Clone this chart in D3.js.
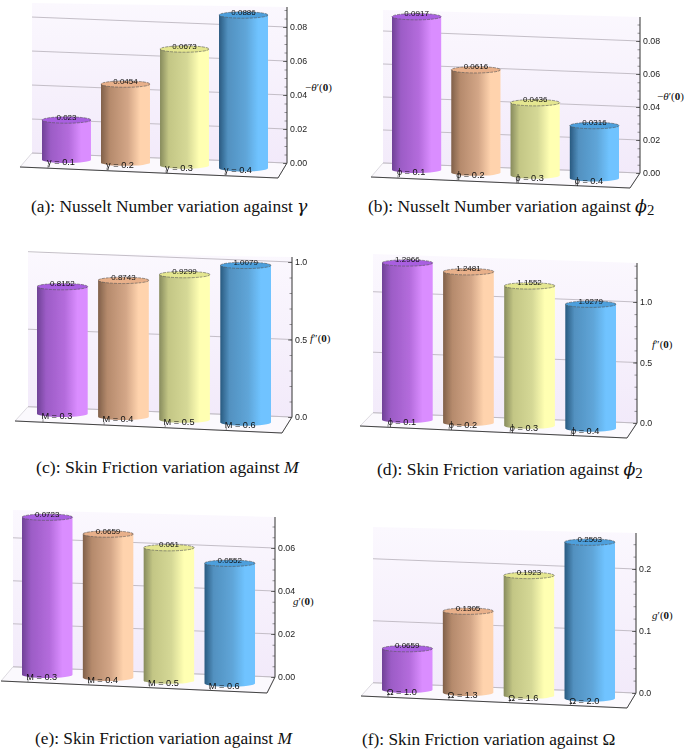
<!DOCTYPE html>
<html>
<head>
<meta charset="utf-8">
<script src="https://cdn.jsdelivr.net/npm/d3@7"></script>
<style>
  html, body { margin: 0; padding: 0; background: #fff; }
  svg { display: block; }
  .caption { font-family: "Liberation Serif", serif; fill: #111; }
  .ytitle { font-family: "Liberation Serif", serif; font-size: 11px; fill: #111; }
  .sans { font-family: "Liberation Sans", Arial, sans-serif; fill: #111; }
</style>
</head>
<body>
<div id="container"></div>
<script>
const catsA = ["γ = 0.1", "γ = 0.2", "γ = 0.3", "γ = 0.4"];
const valsA = [0.023, 0.0454, 0.0673, 0.0886];
const ticksA = [0, 0.02, 0.04, 0.06, 0.08];

const catsB = ["ϕ = 0.1", "ϕ = 0.2", "ϕ = 0.3", "ϕ = 0.4"];
const valsB = [0.0917, 0.0616, 0.0436, 0.0316];
const ticksB = [0, 0.02, 0.04, 0.06, 0.08];

const catsC = ["M = 0.3", "M = 0.4", "M = 0.5", "M = 0.6"];
const valsC = [0.8152, 0.8743, 0.9299, 1.0079];
const ticksC = [0, 0.5, 1];

const catsD = ["ϕ = 0.1", "ϕ = 0.2", "ϕ = 0.3", "ϕ = 0.4"];
const valsD = [1.2966, 1.2481, 1.1552, 1.0279];
const ticksD = [0, 0.5, 1];

const catsE = ["M = 0.3", "M = 0.4", "M = 0.5", "M = 0.6"];
const valsE = [0.0723, 0.0659, 0.061, 0.0552];
const ticksE = [0, 0.02, 0.04, 0.06];

const catsF = ["Ω = 1.0", "Ω = 1.3", "Ω = 1.6", "Ω = 2.0"];
const valsF = [0.0659, 0.1305, 0.1923, 0.2503];
const ticksF = [0, 0.1, 0.2];

// dark edge, shaded side, middle, highlight, top cap
const colors = [
  ["#6f4296", "#9c5cc6", "#b46cdc", "#da8dff", "#a95fe0"],
  ["#80604a", "#b58a6c", "#d3a687", "#ffd3ad", "#e8b08a"],
  ["#878b5d", "#c3c685", "#d5d896", "#ffffb2", "#e4e690"],
  ["#295a80", "#5291c0", "#5fa5d8", "#6fc3ff", "#4d9fdc"]
];

// placement of each panel on the page
const panels = [
  {cats: catsA, vals: valsA, ticks: ticksA, fmt: ".2f", minor: 0.005, axisX: 287, y0: 163, pxTop: 7, unit: 1700, barUnit: 1730, left: 42, right: 268, base: 163, wallX: 32, wallTop: 3, frontL: [20, 167], frontR: [278, 178], title: ["−", "θ", "′(", "0", ")"], titleX: 305, titleY: 91, cap: ["(a): Nusselt Number variation against ", "γ", ""], capX: 31, capY: 212, capSize: 17.4},
  {cats: catsB, vals: valsB, ticks: ticksB, fmt: ".2f", minor: 0.005, axisX: 640, y0: 173, pxTop: 17, unit: 1650, barUnit: 1670, left: 392, right: 619, base: 173, wallX: 383, wallTop: 10, frontL: [371, 177], frontR: [630, 188], title: ["−", "θ", "′(", "0", ")"], titleX: 657, titleY: 100, cap: ["(b): Nusselt Number variation against ", "ϕ", "2"], capX: 368, capY: 212, capSize: 17.4},
  {cats: catsC, vals: valsC, ticks: ticksC, fmt: ".1f", minor: 0.1, axisX: 292, y0: 417, pxTop: 257, unit: 155, barUnit: 156, left: 37, right: 271, base: 417, wallX: 28, wallTop: 253, frontL: [15, 421], frontR: [282, 433], title: ["", "f", "″(", "0", ")"], titleX: 310, titleY: 342, cap: ["(c): Skin Friction variation against ", "M", ""], capX: 36, capY: 473, capSize: 17.7},
  {cats: catsD, vals: valsD, ticks: ticksD, fmt: ".1f", minor: 0.1, axisX: 637, y0: 423, pxTop: 263, unit: 121, barUnit: 121, left: 382, right: 616, base: 423, wallX: 373, wallTop: 254, frontL: [360, 426], frontR: [627, 438], title: ["", "f", "″(", "0", ")"], titleX: 652, titleY: 348, cap: ["(d): Skin Friction variation against ", "ϕ", "2"], capX: 377, capY: 475, capSize: 17.5},
  {cats: catsE, vals: valsE, ticks: ticksE, fmt: ".2f", minor: 0.005, axisX: 275, y0: 677, pxTop: 517, unit: 2150, barUnit: 2180, left: 22, right: 255, base: 678, wallX: 13, wallTop: 510, frontL: [1, 681], frontR: [267, 693], title: ["", "g", "′(", "0", ")"], titleX: 293, titleY: 605, cap: ["(e): Skin Friction variation against ", "M", ""], capX: 35, capY: 744, capSize: 17.3},
  {cats: catsF, vals: valsF, ticks: ticksF, fmt: ".1f", minor: 0.02, axisX: 636, y0: 693, pxTop: 533, unit: 620, barUnit: 625, left: 382, right: 615, base: 693, wallX: 373, wallTop: 527, frontL: [361, 696], frontR: [627, 708], title: ["", "g", "′(", "0", ")"], titleX: 652, titleY: 619, cap: ["(f): Skin Friction variation against ", "Ω", ""], capX: 362, capY: 745, capSize: 17.3, capUpright: true}
];

const wallSkew = 0.039;
const barSkew = 0.048;
const ry = 3.2;

const svg = d3.select("#container")
              .append("svg")
              .attr("width", 685)
              .attr("height", 750);
const defs = svg.append("defs");

const soft = defs.append("filter")
                 .attr("id", "soft")
                 .attr("x", "-5%").attr("y", "-5%")
                 .attr("width", "110%").attr("height", "110%");
soft.append("feGaussianBlur").attr("stdDeviation", 0.35);

const wallFill = defs.append("linearGradient")
                     .attr("id", "wallFill")
                     .attr("x1", 0).attr("y1", 0).attr("x2", 0).attr("y2", 1);
wallFill.append("stop").attr("offset", "0%").attr("stop-color", "#fbf8fe");
wallFill.append("stop").attr("offset", "100%").attr("stop-color", "#f2eafa");

colors.forEach((c, i) => {
  const g = defs.append("linearGradient").attr("id", "bar" + i);
  [[0, 0], [0.18, 1], [0.55, 2], [0.8, 3], [1, 3]].forEach((s) => {
    g.append("stop").attr("offset", s[0]).attr("stop-color", c[s[1]]);
  });
});

panels.forEach((p) => {
  const g = svg.append("g").attr("filter", "url(#soft)");

  const yScale = d3.scaleLinear().domain([0, 1]).range([p.y0, p.y0 - p.unit]);
  const barH = d3.scaleLinear().domain([0, 1]).range([0, p.barUnit]);
  const xScale = d3.scaleBand()
                   .domain(p.cats)
                   .range([p.left, p.right])
                   .paddingInner(0.17);

  const wallDrop = (p.axisX - p.wallX) * wallSkew;

  // back wall
  g.append("path")
   .attr("d", d3.line()([
     [p.wallX, p.wallTop],
     [p.axisX, p.pxTop],
     [p.axisX, p.y0],
     [p.wallX, p.y0 - wallDrop]
   ]) + "Z")
   .attr("fill", "url(#wallFill)");

  // floor
  g.append("path")
   .attr("d", d3.line()([
     [p.wallX, p.y0 - wallDrop],
     [p.axisX, p.y0],
     p.frontR,
     p.frontL
   ]) + "Z")
   .attr("fill", "#fbf9fd")
   .attr("stroke", "#cfcbd3")
   .attr("stroke-width", 0.7);

  // grid lines on the wall
  g.selectAll(".grid")
   .data(p.ticks)
   .enter()
   .append("line")
   .attr("x1", p.wallX)
   .attr("x2", p.axisX)
   .attr("y1", (d) => yScale(d) - wallDrop)
   .attr("y2", (d) => yScale(d))
   .attr("stroke", "#bdb8c1")
   .attr("stroke-width", 0.9);

  // front edge of the floor
  g.append("path")
   .attr("d", d3.line()([p.frontL, p.frontR, [p.axisX, p.y0]]))
   .attr("fill", "none")
   .attr("stroke", "#444")
   .attr("stroke-width", 1);

  // little marks on the front edge, one per bar
  const frontY = (x) => p.frontL[1] + (x - p.frontL[0]) * (p.frontR[1] - p.frontL[1]) / (p.frontR[0] - p.frontL[0]);
  g.selectAll(".mark")
   .data(p.cats)
   .enter()
   .append("line")
   .attr("x1", (d) => xScale(d) + 6)
   .attr("x2", (d) => xScale(d) + 6)
   .attr("y1", (d) => frontY(xScale(d) + 6))
   .attr("y2", (d) => frontY(xScale(d) + 6) - 3)
   .attr("stroke", "#666")
   .attr("stroke-width", 0.7);

  // axis
  const minorTicks = d3.range(0, (p.y0 - p.pxTop) / p.unit + 1e-9, p.minor);
  g.append("g")
   .attr("transform", "translate(" + p.axisX + ",0)")
   .call(d3.axisRight(yScale).tickValues(minorTicks).tickSize(-2.5).tickSizeOuter(0).tickFormat(""))
   .call((a) => a.select(".domain").remove())
   .selectAll("line").attr("stroke", "#555").attr("stroke-width", 0.6);

  const axis = g.append("g")
                .attr("transform", "translate(" + p.axisX + ",0)")
                .call(d3.axisRight(yScale)
                        .tickValues(p.ticks)
                        .tickSize(-4)
                        .tickSizeOuter(0)
                        .tickPadding(3)
                        .tickFormat(d3.format(p.fmt)));
  axis.select(".domain")
      .attr("d", "M0," + p.pxTop + "V" + p.y0)
      .attr("stroke", "#333");
  axis.selectAll("line").attr("stroke", "#444").attr("stroke-width", 0.7);
  axis.selectAll("text")
      .attr("class", "sans")
      .style("font-size", "8.8px")
      .style("fill", "#222");

  // cylinders
  const bar = g.selectAll(".bar")
               .data(p.vals)
               .enter()
               .append("g")
               .attr("class", "bar");
  const cx = (i) => xScale(p.cats[i]) + xScale.bandwidth() / 2;
  const baseY = (i) => p.base - ry + (cx(i) - cx(0)) * barSkew;
  const topY = (d, i) => baseY(i) - barH(d);

  bar.append("path")
     .attr("d", (d, i) => {
       const r = xScale.bandwidth() / 2;
       return "M" + (cx(i) - r) + "," + topY(d, i)
            + "V" + baseY(i)
            + "A" + r + "," + ry + " 0 0 0 " + (cx(i) + r) + "," + baseY(i)
            + "V" + topY(d, i) + "Z";
     })
     .attr("fill", (d, i) => "url(#bar" + i + ")");

  bar.append("ellipse")
     .attr("cx", (d, i) => cx(i))
     .attr("cy", topY)
     .attr("rx", xScale.bandwidth() / 2)
     .attr("ry", ry)
     .attr("fill", (d, i) => colors[i][4])
     .attr("stroke", "#555")
     .attr("stroke-width", 0.6)
     .attr("stroke-dasharray", "3 1");

  bar.append("text")
     .attr("class", "sans")
     .attr("x", (d, i) => cx(i))
     .attr("y", (d, i) => topY(d, i) - 0.5)
     .attr("text-anchor", "middle")
     .attr("font-size", 8)
     .text((d) => d);

  bar.append("text")
     .attr("class", "sans")
     .attr("x", (d, i) => cx(i) - 5.5)
     .attr("y", (d, i) => baseY(i) + ry + 2)
     .attr("text-anchor", "middle")
     .attr("font-size", 9.2)
     .text((d, i) => p.cats[i]);

  // axis title
  const title = svg.append("text")
                   .attr("class", "ytitle")
                   .attr("x", p.titleX)
                   .attr("y", p.titleY);
  title.append("tspan").text(p.title[0]);
  title.append("tspan").attr("font-style", "italic").text(p.title[1]);
  title.append("tspan").text(p.title[2]);
  title.append("tspan").attr("font-weight", "bold").text(p.title[3]);
  title.append("tspan").text(p.title[4]);

  // caption
  const cap = svg.append("text")
                 .attr("class", "caption")
                 .attr("x", p.capX)
                 .attr("y", p.capY)
                 .attr("font-size", p.capSize);
  cap.append("tspan").text(p.cap[0]);
  const sym = cap.append("tspan").text(p.cap[1]);
  if (!p.capUpright) sym.attr("font-style", "italic");
  if (p.cap[1] !== "M" && !p.capUpright) sym.attr("font-family", "DejaVu Serif");
  if (p.cap[2]) {
    cap.append("tspan").attr("dy", 3).attr("font-size", p.capSize * 0.85).text(p.cap[2]);
  }
});
</script>
</body>
</html>
